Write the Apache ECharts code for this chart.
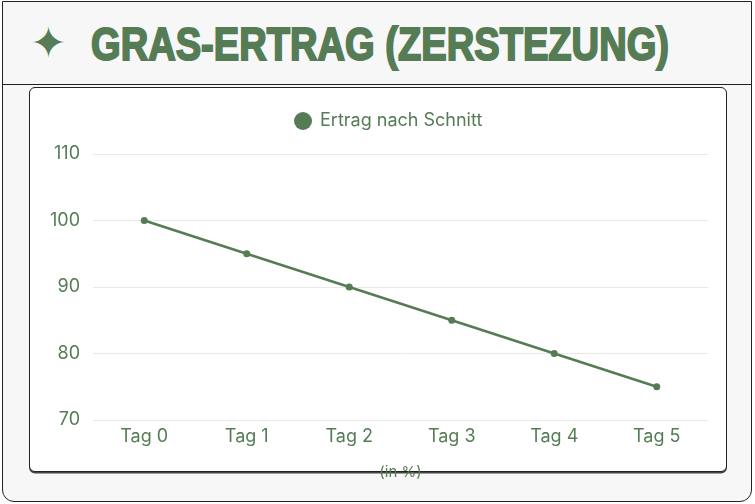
<!DOCTYPE html>
<html>
<head>
<meta charset="utf-8">
<script src="https://cdn.jsdelivr.net/npm/echarts@6/dist/echarts.min.js"></script>
<style>
  html, body { margin:0; padding:0; width:755px; height:504px; overflow:hidden; background:#ffffff; }
  #frame { position:absolute; left:2px; top:1px; width:748px; height:499px; border:1.5px solid #222; border-radius:0 0 12px 12px; background:#f7f7f7; }
  #header { position:absolute; left:0; top:0; width:748px; height:82px; border-bottom:1.5px solid #222; }
  #star { position:absolute; left:27px; top:19px; font-size:44px; line-height:44px; color:#557c55; font-family:"DejaVu Sans"; }
  #title { position:absolute; left:88px; top:18px; font-family:"Liberation Sans Narrow","Liberation Sans",sans-serif; font-weight:bold; font-size:47px; line-height:47px; color:#557c55; white-space:nowrap; transform-origin:0 0; -webkit-text-stroke:2px #557c55; }
  #card { position:absolute; left:29px; top:87px; width:696px; height:383px; background:#fff; border:1.5px solid #222; border-radius:6px; box-shadow:0 1.5px 0 #444; }
  #chart { position:absolute; left:0; top:0; width:755px; height:504px; }
</style>
</head>
<body>
<div id="frame"><div id="header"><span id="star">✦</span><span id="title">GRAS-ERTRAG (ZERSTEZUNG)</span></div></div>
<div id="card"></div>
<div id="chart"></div>
<script>
const categories = ["Tag 0", "Tag 1", "Tag 2", "Tag 3", "Tag 4", "Tag 5"];
const seriesName = "Ertrag nach Schnitt";
const values = [100, 95, 90, 85, 80, 75];
const yMin = 70, yMax = 110, yInterval = 10;
const xAxisName = "(in %)";

// fit title width
const t = document.getElementById('title');
const w = t.getBoundingClientRect().width;
t.style.transform = 'scaleX(' + (578 / w) + ')';

const green = '#557c55';
const font = 'Inter, "Open Sans", sans-serif';
const chart = echarts.init(document.getElementById('chart'), null, {renderer:'canvas'});
chart.setOption({
  animation: false,
  backgroundColor: 'transparent',
  textStyle: { fontFamily: font },
  legend: {
    data: [seriesName],
    left: 289, top: 107,
    icon: 'circle', itemWidth: 18, itemHeight: 18, itemGap: 8,
    textStyle: { color: green, fontSize: 18, fontFamily: font, padding: [0, 0, 0, 3] }
  },
  grid: { left: 93, right: 47, top: 154, bottom: 84, containLabel: false },
  xAxis: {
    type: 'category', data: categories, boundaryGap: true,
    name: xAxisName, nameLocation: 'middle', nameGap: 45,
    nameTextStyle: { color: green, fontSize: 15, fontFamily: font },
    axisLine: { show: false }, axisTick: { show: false },
    axisLabel: { color: green, fontSize: 18, margin: 8, fontFamily: font }
  },
  yAxis: {
    type: 'value', min: yMin, max: yMax, interval: yInterval,
    axisLine: { show: false }, axisTick: { show: false },
    axisLabel: { color: green, fontSize: 18, margin: 13, fontFamily: font },
    splitLine: { lineStyle: { color: '#e6e9e6', width: 1 } }
  },
  series: [{
    name: seriesName, type: 'line', data: values,
    symbol: 'circle', symbolSize: 7,
    lineStyle: { color: green, width: 2.5 },
    itemStyle: { color: green }
  }]
});
</script>
</body>
</html>
